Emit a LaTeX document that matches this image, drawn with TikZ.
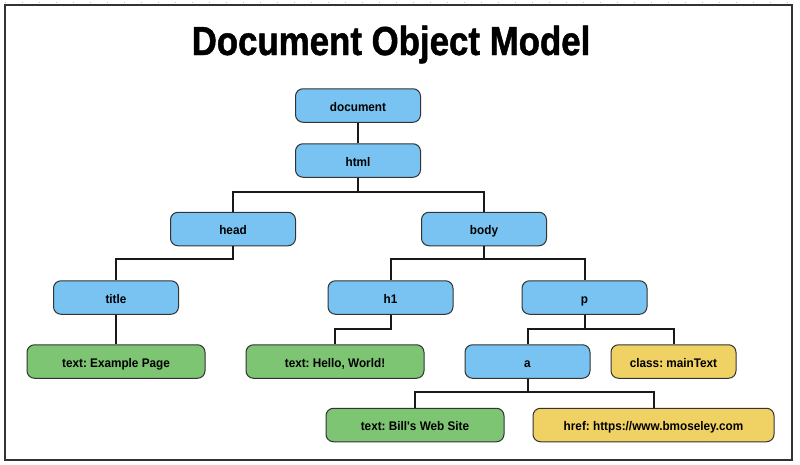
\documentclass[tikz,border=0pt]{standalone}
\usepackage{fontspec}
\setmainfont{Liberation Sans}
\newfontfamily\nodefont[FakeStretch=0.94]{Liberation Sans}
\newfontfamily\titlefont[FakeStretch=0.86, FakeBold=1.2]{Liberation Sans Bold}
\frenchspacing
\definecolor{nblue}{HTML}{78C3F2}
\definecolor{ngreen}{HTML}{7DC473}
\definecolor{nyellow}{HTML}{F0D264}
\definecolor{nborder}{HTML}{333333}
\begin{document}
\begin{tikzpicture}[x=1pt,y=-1pt,
  box/.style={draw=nborder, line width=1pt, rounded corners=7.5pt, minimum height=33.5pt,
    inner sep=0pt, font=\nodefont\fontsize{12.5}{14}\selectfont\bfseries, text height=11pt, text depth=0pt},
  bluebox/.style={box, fill=nblue, minimum width=125pt},
  greenbox/.style={box, fill=ngreen, minimum width=178pt},
  yellowbox/.style={box, fill=nyellow, minimum width=125pt},
  link/.style={line width=2pt, draw=black!90}]
\useasboundingbox (0,0) rectangle (800,464);
\fill[white] (0,0) rectangle (800,464);
\draw[black!25, line width=0.8pt, dash pattern=on 1pt off 16pt] (5,2) -- (795,2);
\draw[nborder, line width=1.5pt] (5,5) rectangle (792,460);
\node[anchor=base, font=\titlefont\fontsize{40.5}{44}\selectfont, text=black] (title) at (391,55) {Document Object Model};
% nodes
\node[bluebox] (document) at (358,105.5) {document};
\node[bluebox] (html) at (358,160.5) {html};
\node[bluebox] (head) at (233,229) {head};
\node[bluebox] (body) at (484,229) {body};
\node[bluebox] (titlen) at (116,297.5) {title};
\node[bluebox] (h1) at (390.5,297.5) {h1};
\node[bluebox] (p) at (584.5,297.5) {p};
\node[greenbox] (expage) at (116,361.5) {text: Example Page};
\node[greenbox] (hello) at (335,361.5) {text: Hello, World!};
\node[bluebox] (a) at (527.5,361.5) {a};
\node[yellowbox] (class) at (673.5,361.5) {class: mainText};
\node[greenbox] (bill) at (415,425) {text: Bill{\char"27}s Web Site};
\node[yellowbox, minimum width=241pt] (href) at (653.5,425) {href: https://www.bmoseley.com};
% connectors
\draw[link] (document.south) -- (html.north);
\draw[link] (html.south) -- ++(0,14) -| (head.north);
\draw[link] (html.south) -- ++(0,14) -| (body.north);
\draw[link] (head.south) -- ++(0,13) -| (titlen.north);
\draw[link] (titlen.south) -- (expage.north);
\draw[link] (body.south) -- ++(0,13) -| (h1.north);
\draw[link] (body.south) -- ++(0,13) -| (p.north);
\draw[link] (h1.south) -- ++(0,14) -| (hello.north);
\draw[link] (p.south) -- ++(0,14) -| (a.north);
\draw[link] (p.south) -- ++(0,14) -| (class.north);
\draw[link] (a.south) -- ++(0,13) -| (bill.north);
\draw[link] (a.south) -- ++(0,13) -| (href.north);
\end{tikzpicture}
\end{document}
